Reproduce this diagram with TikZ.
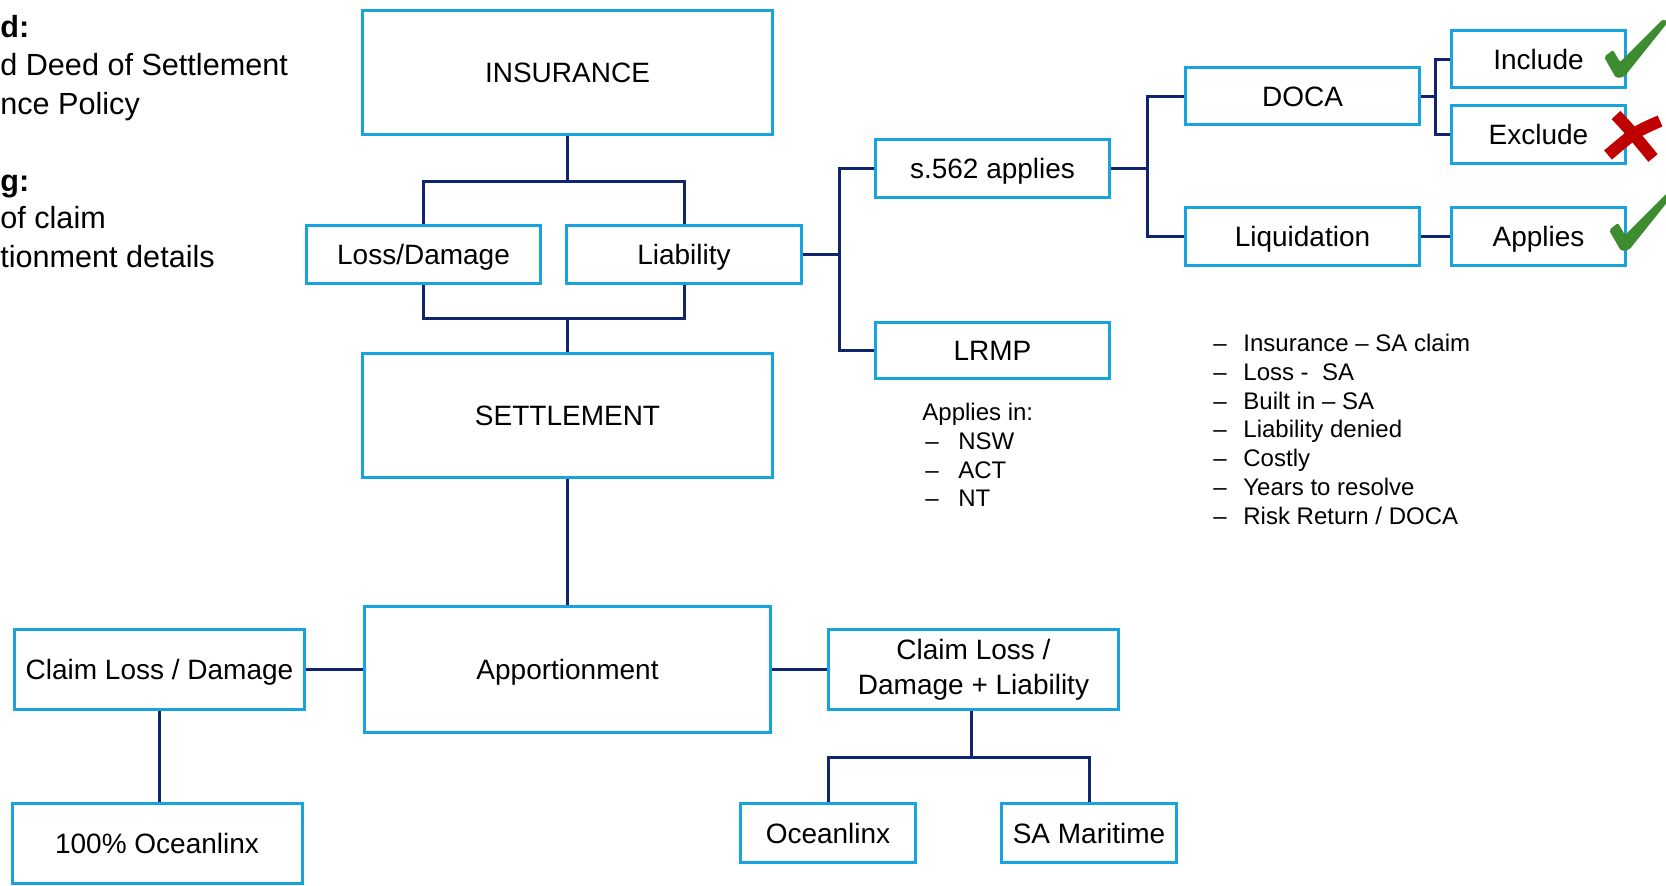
\documentclass[tikz,border=0pt]{standalone}
\usepackage{fontspec}
\setmainfont{Liberation Sans}
\definecolor{boxblue}{RGB}{22,163,222}
\definecolor{navy}{RGB}{15,38,110}
\definecolor{checkgreen}{RGB}{62,140,48}
\definecolor{crossred}{RGB}{192,0,0}
\begin{document}
\begin{tikzpicture}[x=0.5pt,y=-0.5pt,
  box/.style={draw=boxblue, line width=1.5pt, inner sep=0pt, text height=10pt, text depth=0pt, font=\fontsize{14}{17.5}\selectfont, fill=white},
  conn/.style={draw=navy, line width=1.5pt},
  lbl/.style={anchor=base west, inner sep=0pt, font=\fontsize{12}{14}\selectfont},
  side/.style={anchor=base west, inner sep=0pt, font=\fontsize{15.3}{19}\selectfont},
  sidebold/.style={anchor=base west, inner sep=0pt, font=\bfseries\fontsize{15.3}{19}\selectfont},
]
\useasboundingbox (0,0) rectangle (1666,885);

% left text fragments
\node[sidebold] (t1) at (0,37) {d:};
\node[side] (t2) at (0,75.5) {d Deed of Settlement};
\node[side] (t3) at (0,114) {nce Policy};
\node[sidebold] (t4) at (0,191) {g:};
\node[side] (t5) at (0,228.5) {of claim};
\node[side] (t6) at (0,267.5) {tionment details};

% boxes
\node[box, minimum width=205pt, minimum height=62pt] (ins) at (567.5,72) {INSURANCE};
\node[box, minimum width=117pt, minimum height=29pt] (loss) at (423.5,254.5) {Loss/Damage};
\node[box, minimum width=117.5pt, minimum height=29pt] (liab) at (684,254.5) {Liability};
\node[box, minimum width=205pt, minimum height=62pt] (sett) at (567.5,415.5) {SETTLEMENT};
\node[box, minimum width=203pt, minimum height=63pt] (app) at (567.5,669) {Apportionment};
\node[box, minimum width=145pt, minimum height=40pt] (cld) at (159.5,669.5) {Claim Loss / Damage};
\node[box, minimum width=145pt, minimum height=40pt] (o100) at (157,843) {100\% Oceanlinx};
\node[box, minimum width=145pt, minimum height=40pt, align=center, text height=, text depth=] (cdl) at (973.5,669.5) {Claim Loss /\\Damage + Liability};
\node[box, minimum width=87.5pt, minimum height=29.5pt] (oce) at (828,833) {Oceanlinx};
\node[box, minimum width=87.5pt, minimum height=29.5pt] (sam) at (1089,833) {SA Maritime};
\node[box, minimum width=117pt, minimum height=29pt] (s562) at (992.5,168.5) {s.562 applies};
\node[box, minimum width=117pt, minimum height=28pt] (lrmp) at (992.5,350.5) {LRMP};
\node[box, minimum width=117pt, minimum height=28.5pt] (doca) at (1302.5,96) {DOCA};
\node[box, minimum width=117pt, minimum height=29pt] (liq) at (1302.5,236.5) {Liquidation};
\node[box, minimum width=87pt, minimum height=28.5pt] (incl) at (1538.5,59) {Include};
\node[box, minimum width=87pt, minimum height=29pt] (excl) at (1538.5,134.5) {Exclude};
\node[box, minimum width=87pt, minimum height=29pt] (appl) at (1538.5,236.5) {Applies};

% junction points
\coordinate (j1) at (567.5,181);
\coordinate (j2) at (567.5,318);
\coordinate (j3) at (971,757.5);
\coordinate (j4) at (839,254.5);
\coordinate (j5) at (1147.5,168.5);
\coordinate (j6) at (1435.5,96);

% connectors
\draw[conn] (ins.south) -- (j1);
\draw[conn] (loss.north) |- (j1) -| (liab.north);
\draw[conn] (loss.south) |- (j2) -| (liab.south);
\draw[conn] (j2) -- (sett.north);
\draw[conn] (sett.south) -- (app.north);
\draw[conn] (app.west) -- (cld.east |- app.west);
\draw[conn] (app.east) -- (cdl.west |- app.east);
\draw[conn] (cld.south) -- (cld.south |- o100.north);
\draw[conn] (cdl.south -| j3) -- (j3);
\draw[conn] (oce.north) |- (j3) -| (sam.north);
\draw[conn] (liab.east) -- (j4);
\draw[conn] (s562.west) -| (j4) |- (lrmp.west);
\draw[conn] (s562.east) -- (j5);
\draw[conn] (doca.west) -| (j5) |- (liq.west);
\draw[conn] (doca.east) -- (j6);
\draw[conn] (incl.west) -| (j6) |- (excl.west);
\draw[conn] (liq.east) -- (appl.west);

% Applies in list
\node[lbl] (ai) at (922,420.5) {Applies in:};
\node[lbl] (ad1) at (925,449.5) {–};
\node[lbl] (ai1) at (958,449.5) {NSW};
\node[lbl] (ad2) at (925,478) {–};
\node[lbl] (ai2) at (958,478) {ACT};
\node[lbl] (ad3) at (925,506.5) {–};
\node[lbl] (ai3) at (958,506.5) {NT};

% right list
\node[lbl] (rd1) at (1213,351.6) {–};
\node[lbl] (r1) at (1243,351.6) {Insurance – SA claim};
\node[lbl] (rd2) at (1213,380.6) {–};
\node[lbl] (r2) at (1243,380.6) {Loss -\ \ SA};
\node[lbl] (rd3) at (1213,409.2) {–};
\node[lbl] (r3) at (1243,409.2) {Built in – SA};
\node[lbl] (rd4) at (1213,437.6) {–};
\node[lbl] (r4) at (1243,437.6) {Liability denied};
\node[lbl] (rd5) at (1213,466.6) {–};
\node[lbl] (r5) at (1243,466.6) {Costly};
\node[lbl] (rd6) at (1213,495.2) {–};
\node[lbl] (r6) at (1243,495.2) {Years to resolve};
\node[lbl] (rd7) at (1213,524.6) {–};
\node[lbl] (r7) at (1243,524.6) {Risk Return / DOCA};

% check marks
\begin{scope}[shift={(1620,74)}]
\fill[checkgreen, rounded corners=1pt] (-16,-17) -- (-4,4) -- (4,3) -- (48,-52) -- (43,-55) -- (0,-12) -- (-7,-24) -- cycle;
\end{scope}
\begin{scope}[shift={(1625,247)}]
\fill[checkgreen, rounded corners=1pt] (-16,-17) -- (-4,4) -- (4,3) -- (48,-52) -- (43,-55) -- (0,-12) -- (-7,-24) -- cycle;
\end{scope}
% cross
\draw[crossred, line width=6pt] (1616,115) .. controls (1630,130) .. (1653,158);
\draw[crossred, line width=6pt] (1660,121) .. controls (1635,132) .. (1608,155);
\end{tikzpicture}
\end{document}
